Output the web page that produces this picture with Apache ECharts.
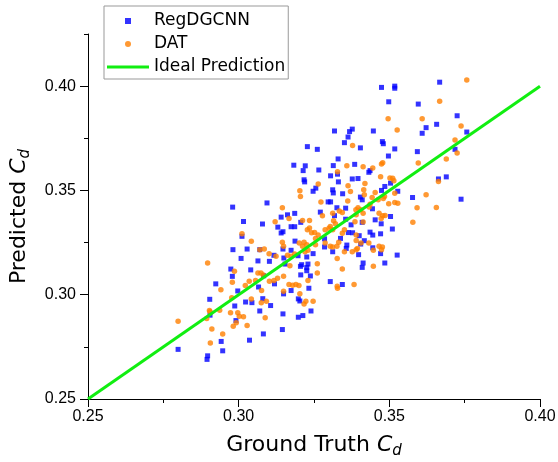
<!DOCTYPE html>
<html>
<head>
<meta charset="utf-8">
<script src="https://cdn.jsdelivr.net/npm/echarts@6/dist/echarts.min.js"></script>
<style>html,body{margin:0;padding:0;background:#fff}#c{width:558px;height:462px}</style>
</head>
<body>
<div id="c"></div>
<script>
// RegDGCNN: ground truth / predicted
var regGT = [0.3474,0.3518,0.3518,0.3667,0.3498,0.3596,0.3725,0.3657,0.3622,0.3609,0.3757,0.3318,0.3377,0.3368,0.3363,0.3447,0.3351,0.3477,0.3480,0.3228,
0.3261,0.3404,0.3518,0.3718,0.3593,0.3497,0.3330,0.3385,0.3183,0.3221,0.3314,0.3436,0.3432,0.3214,0.3266,0.3305,0.3328,0.3217,0.3219,0.3331,
0.3377,0.3396,0.3504,0.3474,0.3528,0.3485,0.3312,0.3314,0.3247,0.3256,0.3663,0.3689,0.3577,0.3738,0.3345,0.3404,0.3410,0.3297,0.3305,0.2980,
0.3094,0.3326,0.3355,0.3271,0.3444,0.3162,0.3186,0.3141,0.3318,0.3355,0.3504,0.3410,0.3453,0.3016,0.3079,0.3130,0.3174,0.3186,0.3206,0.3141,
0.3147,0.3373,0.3378,0.3473,0.3510,0.3364,0.3436,0.3445,0.3471,0.3400,0.3011,0.3187,0.3285,0.3338,0.3417,0.3405,0.3359,0.3285,0.2981,0.3028,
0.3070,0.3147,0.3174,0.3357,0.3445,0.3471,0.3526,0.3008,0.3064,0.3117,0.3150,0.3197,0.3226,0.3247,0.3398,0.3312,0.3102,0.3154,0.3209,0.3230,
0.3413,0.3410,0.3485,0.2974,0.3040,0.3226,0.3226,0.3205,0.2979,0.3083,0.3206,0.3238,0.3304,0.2924,0.3119,0.3233,0.3344,0.3066,0.3174,0.2997,
0.3149,0.2904,0.3080,0.3023,0.3044,0.3198,0.3203,0.2987,0.3106,0.3070,0.3240,0.3147,0.2905,0.3213,0.3198,0.2991,0.3082,0.3145,0.3036,0.2942,
0.2947,0.2799,0.2897,0.2895];
var regPred = [0.3994,0.4000,0.3990,0.4019,0.3925,0.3914,0.3858,0.3817,0.3801,0.3774,0.3780,0.3785,0.3794,0.3782,0.3756,0.3785,0.3729,0.3734,0.3724,0.3710,
0.3697,0.3704,0.3699,0.3697,0.3686,0.3665,0.3651,0.3625,0.3621,0.3618,0.3619,0.3595,0.3587,0.3595,0.3598,0.3570,0.3578,0.3551,0.3541,0.3541,
0.3555,0.3557,0.3535,0.3500,0.3496,0.3519,0.3503,0.3488,0.3496,0.3511,0.3555,0.3565,0.3466,0.3458,0.3484,0.3468,0.3455,0.3445,0.3445,0.3420,
0.3440,0.3417,0.3415,0.3396,0.3412,0.3383,0.3390,0.3372,0.3379,0.3362,0.3375,0.3347,0.3359,0.3351,0.3339,0.3324,0.3326,0.3326,0.3347,0.3296,
0.3302,0.3335,0.3297,0.3340,0.3315,0.3298,0.3300,0.3286,0.3292,0.3283,0.3280,0.3257,0.3268,0.3270,0.3259,0.3243,0.3238,0.3229,0.3216,0.3219,
0.3216,0.3219,0.3213,0.3222,0.3225,0.3197,0.3190,0.3174,0.3162,0.3189,0.3176,0.3187,0.3181,0.3197,0.3192,0.3206,0.3160,0.3147,0.3144,0.3147,
0.3152,0.3131,0.3152,0.3123,0.3119,0.3130,0.3115,0.3136,0.3088,0.3091,0.3095,0.3090,0.3063,0.3052,0.3052,0.3031,0.3049,0.3037,0.3020,0.3018,
0.3004,0.2978,0.2981,0.2965,0.2962,0.2980,0.2970,0.2946,0.2948,0.2922,0.2922,0.2908,0.2902,0.2900,0.2892,0.2876,0.2812,0.2833,0.2782,0.2776,
0.2731,0.2738,0.2707,0.2690];
// DAT: ground truth / predicted
var datGT = [0.3757,0.3667,0.3496,0.3609,0.3526,0.3738,0.3378,0.3718,0.3725,0.3689,0.3478,0.3474,0.3596,0.3328,0.3359,0.3413,0.3445,0.3471,0.3502,0.3511,
0.3515,0.3663,0.3264,0.3203,0.3205,0.3419,0.3363,0.3453,0.3371,0.3415,0.3417,0.3443,0.3518,0.3518,0.3528,0.3498,0.3463,0.3622,0.3362,0.3273,
0.3592,0.3656,0.3145,0.3436,0.3396,0.3389,0.3334,0.3344,0.3312,0.3413,0.3405,0.3390,0.3433,0.3278,0.3466,0.3478,0.3486,0.3578,0.3473,0.3167,
0.3121,0.3212,0.3235,0.3315,0.3321,0.3386,0.3413,0.3235,0.3228,0.3242,0.3252,0.3287,0.3304,0.3300,0.3312,0.3344,0.3351,0.3011,0.3042,0.3145,
0.3149,0.3201,0.3212,0.3217,0.3226,0.3255,0.3264,0.3255,0.3287,0.3312,0.3304,0.3326,0.3332,0.3390,0.3390,0.3406,0.3432,0.3466,0.3477,0.3474,
0.3447,0.3351,0.3377,0.3390,0.3394,0.3070,0.3085,0.3101,0.3124,0.3162,0.3174,0.3186,0.3170,0.3220,0.3230,0.3261,0.3327,0.2897,0.2941,0.2979,
0.2986,0.3022,0.3035,0.3056,0.3064,0.3074,0.3082,0.3102,0.3117,0.3129,0.3149,0.3149,0.3167,0.3179,0.3190,0.3200,0.3230,0.3261,0.3344,0.3327,
0.3328,0.3383,0.3203,0.2977,0.3076,0.3092,0.3042,0.3075,0.3223,0.3217,0.3247,0.2903,0.2905,0.2937,0.2973,0.2997,0.3002,0.3016,0.2894,0.3088,
0.2992,0.2982,0.3028,0.2911,0.2947,0.2906,0.2799,0.3484,0.3480,0.3447];
var datPred = [0.4029,0.3927,0.3844,0.3844,0.3790,0.3809,0.3715,0.3742,0.3680,0.3651,0.3633,0.3627,0.3632,0.3589,0.3618,0.3614,0.3608,0.3566,0.3560,0.3558,
0.3547,0.3543,0.3531,0.3498,0.3471,0.3533,0.3523,0.3490,0.3495,0.3503,0.3479,0.3466,0.3487,0.3442,0.3439,0.3436,0.3455,0.3479,0.3449,0.3445,
0.3417,0.3418,0.3417,0.3434,0.3417,0.3407,0.3401,0.3394,0.3390,0.3390,0.3407,0.3383,0.3420,0.3378,0.3391,0.3378,0.3380,0.3348,0.3366,0.3366,
0.3350,0.3356,0.3356,0.3355,0.3340,0.3350,0.3349,0.3320,0.3311,0.3297,0.3298,0.3311,0.3327,0.3319,0.3311,0.3295,0.3311,0.3292,0.3256,0.3251,
0.3232,0.3248,0.3232,0.3251,0.3240,0.3240,0.3286,0.3270,0.3248,0.3229,0.3232,0.3232,0.3251,0.3286,0.3260,0.3248,0.3248,0.3232,0.3229,0.3216,
0.3213,0.3206,0.3206,0.3216,0.3222,0.3216,0.3219,0.3197,0.3184,0.3189,0.3184,0.3195,0.3139,0.3206,0.3213,0.3149,0.3174,0.3152,0.3024,0.3060,
0.3112,0.3044,0.3064,0.3068,0.3104,0.3104,0.3095,0.3064,0.3068,0.3079,0.3088,0.3017,0.3049,0.3045,0.3049,0.3044,0.3068,0.3104,0.3123,0.3040,
0.3031,0.3049,0.3005,0.2985,0.3020,0.2969,0.2980,0.2962,0.2969,0.2956,0.2969,0.2924,0.2918,0.2926,0.2913,0.2913,0.2897,0.2894,0.2886,0.2889,
0.2865,0.2849,0.2852,0.2836,0.2812,0.2769,0.2873,0.3471,0.3461,0.3136];
// Ideal prediction line
var idealGT = [0.25, 0.40];
var idealPred = [0.25, 0.40];
var majorTicks = [0.25, 0.30, 0.35, 0.40];

function zip(a, b) { return a.map(function (v, i) { return [v, b[i]]; }); }

var chart = echarts.init(document.getElementById('c'), null, { renderer: 'canvas' });
var tickFont = { fontFamily: 'Liberation Sans, Arial, sans-serif', fontSize: 16, color: '#000' };
var nameRich = {
  a: { fontFamily: 'DejaVu Sans', fontSize: 22, color: '#000', lineHeight: 28 },
  c: { fontFamily: 'DejaVu Sans', fontStyle: 'italic', fontSize: 22, color: '#000', lineHeight: 28 },
  d: { fontFamily: 'DejaVu Sans', fontStyle: 'italic', fontSize: 15, color: '#000', lineHeight: 12, verticalAlign: 'bottom' }
};
function fmt(v) { return v.toFixed(2); }

chart.setOption({
  animation: false,
  backgroundColor: '#fff',
  grid: { left: 88, right: 18, top: 34, bottom: 63, containLabel: false, outerBoundsMode: 'none' },
  legend: {
    orient: 'vertical', left: 104, top: 6,
    padding: [4, 3, 1, 3],
    itemGap: 1, itemWidth: 42, itemHeight: 6,
    borderColor: '#999', borderWidth: 1, backgroundColor: '#fff',
    selectedMode: false, symbolKeepAspect: true,
    textStyle: { fontFamily: 'DejaVu Sans', fontSize: 17, color: '#000', lineHeight: 22 },
    data: [
      { name: 'RegDGCNN', icon: 'path://M0,0L1,0L1,1L0,1Z' },
      { name: 'DAT', icon: 'circle' },
      { name: 'Ideal Prediction', icon: 'path://M0,0L42,0L42,3L0,3Z' }
    ]
  },
  xAxis: [{
    type: 'value', min: 0.25, max: 0.40, interval: 0.05,
    name: '{a|Ground Truth }{c|C}{d|d}', nameLocation: 'middle', nameGap: 32,
    nameTextStyle: { rich: nameRich },
    axisLine: { show: true, lineStyle: { color: '#000', width: 1 } },
    axisTick: { show: true, inside: false, length: 8, lineStyle: { color: '#000' }, customValues: majorTicks },
    axisLabel: Object.assign({ margin: 10, formatter: fmt, customValues: majorTicks }, tickFont),
    splitLine: { show: false }
  }, {
    type: 'value', min: 0.25, max: 0.40, interval: 0.025, position: 'bottom',
    axisLine: { show: false }, axisLabel: { show: false }, splitLine: { show: false },
    axisTick: { show: true, length: 4, lineStyle: { color: '#000' } }
  }],
  yAxis: [{
    type: 'value', min: 0.25, max: 0.425, interval: 0.05,
    name: '{a|Predicted }{c|C}{d|d}', nameLocation: 'middle', nameGap: 55,
    nameTextStyle: { rich: nameRich },
    axisLine: { show: true, lineStyle: { color: '#000', width: 1 } },
    axisTick: { show: true, length: 8, lineStyle: { color: '#000' }, customValues: majorTicks },
    axisLabel: Object.assign({ margin: 12, formatter: fmt, customValues: majorTicks }, tickFont),
    splitLine: { show: false }
  }, {
    type: 'value', min: 0.25, max: 0.425, interval: 0.025, position: 'left',
    axisLine: { show: false }, axisLabel: { show: false }, splitLine: { show: false },
    axisTick: { show: true, length: 4, lineStyle: { color: '#000' } }
  }],
  series: [{
    name: 'RegDGCNN', type: 'scatter', symbol: 'rect', symbolSize: 5,
    itemStyle: { color: '#0000ff' },
    data: zip(regGT, regPred)
  }, {
    name: 'DAT', type: 'scatter', symbol: 'circle', symbolSize: 5.5,
    itemStyle: { color: '#ff8000' },
    data: zip(datGT, datPred)
  }, {
    name: 'Ideal Prediction', type: 'line', showSymbol: false, symbol: 'none',
    lineStyle: { color: '#11ee11', width: 3 },
    itemStyle: { color: '#11ee11' },
    data: zip(idealGT, idealPred)
  }]
});
</script>
</body>
</html>
